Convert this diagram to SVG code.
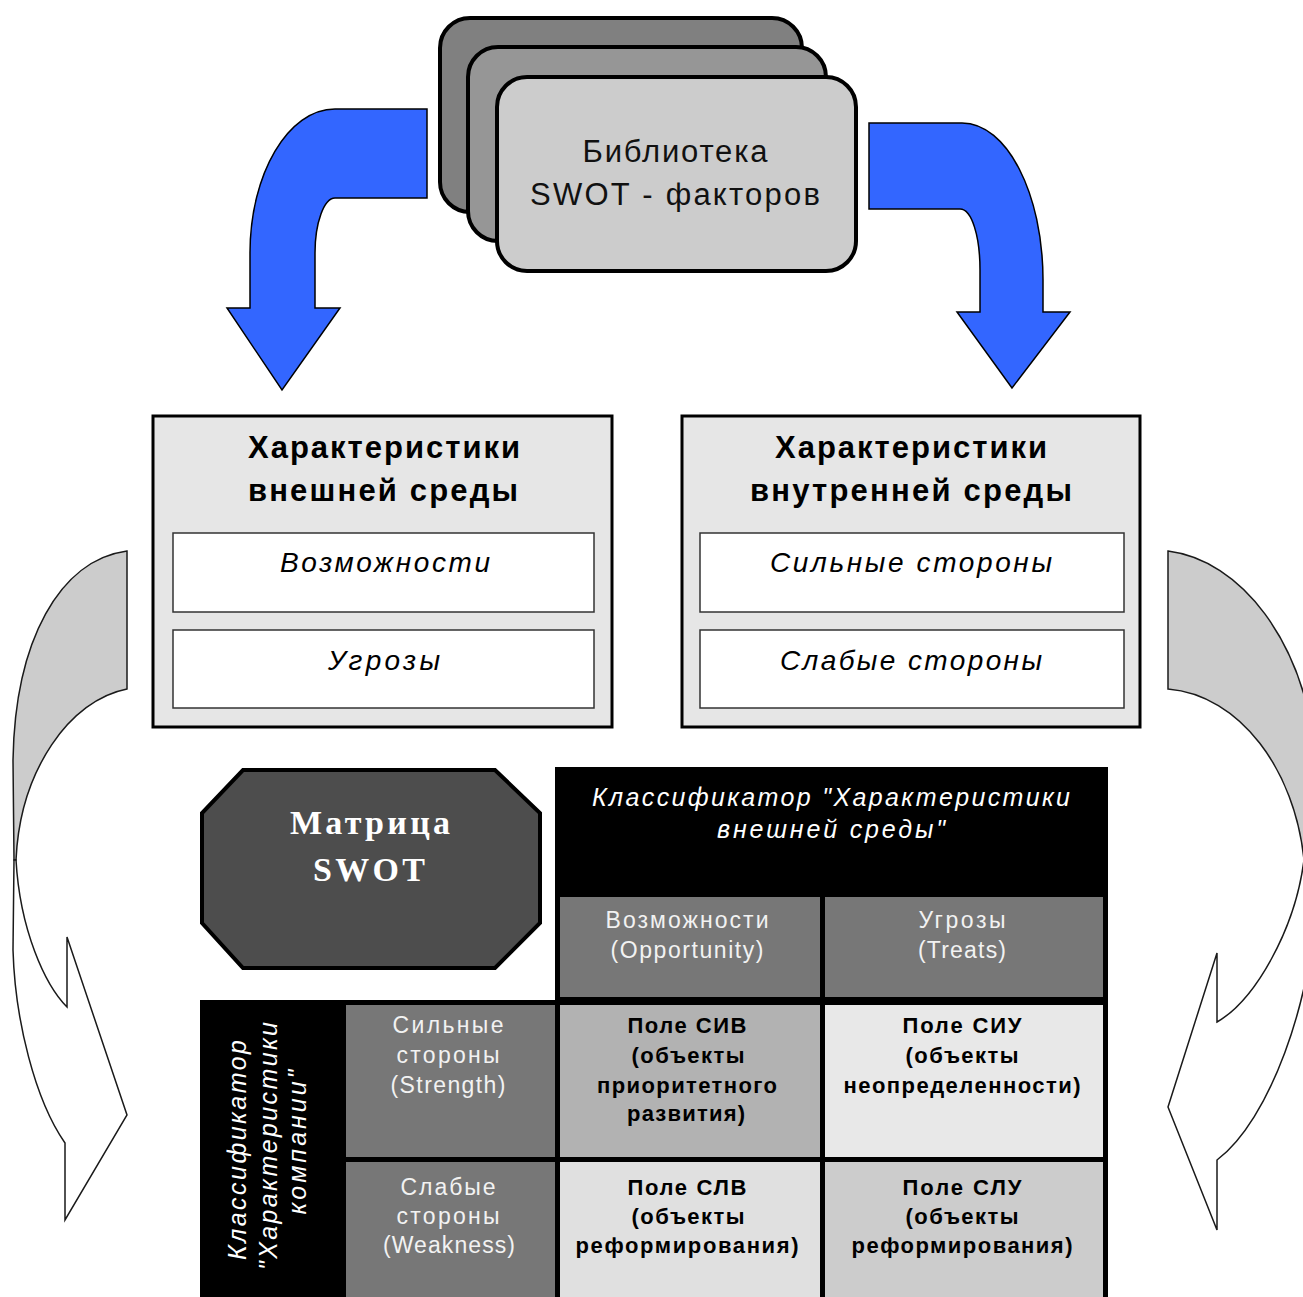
<svg xmlns="http://www.w3.org/2000/svg" width="1303" height="1297" viewBox="0 0 1303 1297">
<style>
.card{stroke:#000;stroke-width:4}
.blue{fill:#3366ff;stroke:#000;stroke-width:1.5;stroke-linejoin:miter}
.gback{fill:#cccccc;stroke:#1a1a1a;stroke-width:1.5}
.gfront{fill:#ffffff;stroke:#1a1a1a;stroke-width:1.5}
.outer{fill:#e6e6e6;stroke:#000;stroke-width:3}
.inner{fill:#ffffff;stroke:#333;stroke-width:1.5}
.t{font-family:"Liberation Sans",Arial,sans-serif;text-anchor:middle}
.lib{font-size:31px;fill:#111}
.title{font-size:31px;font-weight:bold;fill:#000}
.it{font-size:28px;font-style:italic;fill:#000}
.hdr{font-size:25px;font-style:italic;fill:#fff}
.wc{font-size:23px;fill:#f2f2f2}
.bc{font-size:22px;font-weight:bold;fill:#000}
.mx{font-family:"Liberation Serif","Times New Roman",serif;font-size:34px;font-weight:bold;fill:#fff;text-anchor:middle}
</style>

<g id="connectors">
  <path id="blue-left" class="blue" d="M427,109 L335,109 C288,109 250,174 250,253 L250,308 L227,308 L282,390 L340,308 L315,308 L315,253 C315,223 324,198 335,198 L427,198 Z"/>
  <path id="blue-right" class="blue" d="M869,123 L962,123 C1007,123 1043,194 1043,280 L1043,312 L1070,312 L1012,388 L957,312 L980,312 L980,270 C980,237 972,209 960,209 L869,209 Z"/>
  <g id="gray-left">
    <path class="gback" d="M127,551 C60,560 15,640 13,760 L14,860 L16,860 C20,770 70,700 127,689 Z"/>
    <path class="gfront" d="M14,860 L13,950 C15,1020 35,1100 65,1143 L65,1220 L127,1115 L67,937 L67,1007 C45,985 20,930 16,860 Z"/>
  </g>
  <g id="gray-right">
    <path class="gback" d="M1168,551 C1240,560 1305,640 1316,760 L1318,860 L1304,860 C1295,770 1240,695 1168,689 Z"/>
    <path class="gfront" d="M1318,860 L1316,900 C1312,1000 1270,1120 1217,1160 L1217,1230 L1168,1107 L1217,953 L1217,1022 C1255,1000 1295,930 1304,860 Z"/>
  </g>
</g>

<g id="library">
  <rect class="card" x="440" y="18" width="362" height="194" rx="30" fill="#808080"/>
  <rect class="card" x="468" y="47" width="358" height="194" rx="30" fill="#969696"/>
  <rect class="card" x="497" y="77" width="359" height="194" rx="30" fill="#cccccc"/>
  <text class="t lib" x="675" y="162" textLength="185" lengthAdjust="spacing">Библиотека</text>
  <text class="t lib" x="675" y="205" textLength="290" lengthAdjust="spacing">SWOT - факторов</text>
</g>

<g id="external">
  <rect class="outer" x="153" y="416" width="459" height="311"/>
  <text class="t title" x="384" y="458" textLength="272" lengthAdjust="spacing">Характеристики</text>
  <text class="t title" x="383" y="501" textLength="270" lengthAdjust="spacing">внешней среды</text>
  <g id="ext-opp">
    <rect class="inner" x="173" y="533" width="421" height="79"/>
    <text class="t it" x="385" y="572" textLength="210" lengthAdjust="spacing">Возможности</text>
  </g>
  <g id="ext-thr">
    <rect class="inner" x="173" y="630" width="421" height="78"/>
    <text class="t it" x="384" y="670" textLength="112" lengthAdjust="spacing">Угрозы</text>
  </g>
</g>

<g id="internal">
  <rect class="outer" x="682" y="416" width="458" height="311"/>
  <text class="t title" x="911" y="458" textLength="272" lengthAdjust="spacing">Характеристики</text>
  <text class="t title" x="911" y="501" textLength="322" lengthAdjust="spacing">внутренней среды</text>
  <g id="int-str">
    <rect class="inner" x="700" y="533" width="424" height="79"/>
    <text class="t it" x="911" y="572" textLength="282" lengthAdjust="spacing">Сильные стороны</text>
  </g>
  <g id="int-weak">
    <rect class="inner" x="700" y="630" width="424" height="78"/>
    <text class="t it" x="911" y="670" textLength="262" lengthAdjust="spacing">Слабые стороны</text>
  </g>
</g>

<g id="matrix-label">
  <polygon points="243,770 495,770 540,813 540,923 495,968 243,968 202,923 202,813" fill="#4d4d4d" stroke="#000" stroke-width="4"/>
  <text class="mx" x="370" y="834" textLength="160" lengthAdjust="spacing">Матрица</text>
  <text class="mx" x="369" y="881" textLength="112" lengthAdjust="spacing">SWOT</text>
</g>

<g id="swot-table">
  <rect x="555" y="767" width="553" height="530" fill="#000"/>
  <rect x="200" y="1000" width="355" height="297" fill="#000"/>
  <text class="t hdr" x="831" y="806" textLength="478" lengthAdjust="spacing">Классификатор "Характеристики</text>
  <text class="t hdr" x="831" y="838" textLength="228" lengthAdjust="spacing">внешней среды"</text>
  <g id="col-opp">
    <rect x="560" y="897" width="260" height="100" fill="#777777"/>
    <text class="t wc" x="687" y="928" textLength="163" lengthAdjust="spacing">Возможности</text>
    <text class="t wc" x="687" y="958" textLength="153" lengthAdjust="spacing">(Opportunity)</text>
  </g>
  <g id="col-thr">
    <rect x="825" y="897" width="278" height="100" fill="#777777"/>
    <text class="t wc" x="962" y="928" textLength="87" lengthAdjust="spacing">Угрозы</text>
    <text class="t wc" x="962" y="958" textLength="88" lengthAdjust="spacing">(Treats)</text>
  </g>
  <text class="t hdr" transform="translate(246,1150) rotate(-90)" textLength="220" lengthAdjust="spacing">Классификатор</text>
  <text class="t hdr" transform="translate(277,1146) rotate(-90)" textLength="248" lengthAdjust="spacing">"Характеристики</text>
  <text class="t hdr" transform="translate(306,1142) rotate(-90)" textLength="145" lengthAdjust="spacing">компании"</text>
  <g id="row-str">
    <rect x="346" y="1005" width="209" height="152" fill="#777777"/>
    <text class="t wc" x="448" y="1033" textLength="111" lengthAdjust="spacing">Сильные</text>
    <text class="t wc" x="448" y="1063" textLength="103" lengthAdjust="spacing">стороны</text>
    <text class="t wc" x="448" y="1093" textLength="115" lengthAdjust="spacing">(Strength)</text>
  </g>
  <g id="row-weak">
    <rect x="346" y="1162" width="209" height="135" fill="#777777"/>
    <text class="t wc" x="448" y="1195" textLength="95" lengthAdjust="spacing">Слабые</text>
    <text class="t wc" x="448" y="1224" textLength="103" lengthAdjust="spacing">стороны</text>
    <text class="t wc" x="449" y="1253" textLength="132" lengthAdjust="spacing">(Weakness)</text>
  </g>
  <g id="cell-siv">
    <rect x="560" y="1005" width="260" height="152" fill="#b2b2b2"/>
    <text class="t bc" x="687" y="1033" textLength="119" lengthAdjust="spacing">Поле СИВ</text>
    <text class="t bc" x="688" y="1063" textLength="113" lengthAdjust="spacing">(объекты</text>
    <text class="t bc" x="687" y="1093" textLength="180" lengthAdjust="spacing">приоритетного</text>
    <text class="t bc" x="686" y="1121" textLength="118" lengthAdjust="spacing">развития)</text>
  </g>
  <g id="cell-siu">
    <rect x="825" y="1005" width="278" height="152" fill="#e8e8e8"/>
    <text class="t bc" x="962" y="1033" textLength="119" lengthAdjust="spacing">Поле СИУ</text>
    <text class="t bc" x="962" y="1063" textLength="113" lengthAdjust="spacing">(объекты</text>
    <text class="t bc" x="962" y="1093" textLength="237" lengthAdjust="spacing">неопределенности)</text>
  </g>
  <g id="cell-slv">
    <rect x="560" y="1162" width="260" height="135" fill="#e0e0e0"/>
    <text class="t bc" x="687" y="1195" textLength="119" lengthAdjust="spacing">Поле СЛВ</text>
    <text class="t bc" x="688" y="1224" textLength="113" lengthAdjust="spacing">(объекты</text>
    <text class="t bc" x="687" y="1253" textLength="223" lengthAdjust="spacing">реформирования)</text>
  </g>
  <g id="cell-slu">
    <rect x="825" y="1162" width="278" height="135" fill="#cccccc"/>
    <text class="t bc" x="962" y="1195" textLength="119" lengthAdjust="spacing">Поле СЛУ</text>
    <text class="t bc" x="962" y="1224" textLength="113" lengthAdjust="spacing">(объекты</text>
    <text class="t bc" x="962" y="1253" textLength="221" lengthAdjust="spacing">реформирования)</text>
  </g>
</g>
</svg>
